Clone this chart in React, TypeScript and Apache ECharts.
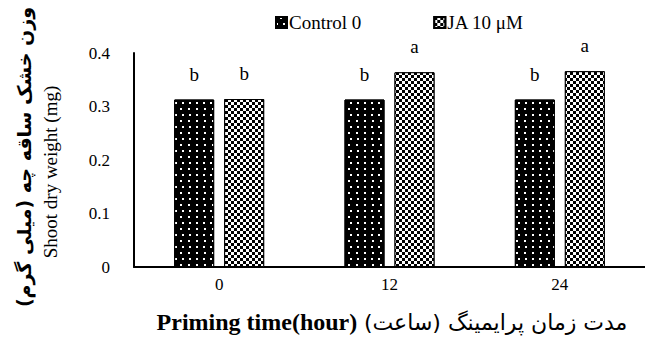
import React, { useEffect, useRef } from "react";
import * as echarts from "echarts";

const categories = ["0", "12", "24"];
const controlValues = [0.313, 0.313, 0.313];
const jaValues = [0.314, 0.364, 0.366];
const controlLetters = ["b", "b", "b"];
const jaLetters = ["b", "a", "a"];
const yTicks = [0, 0.1, 0.2, 0.3, 0.4];
const seriesNames = ["Control 0", "JA 10 μM"];
const yTitleEn = "Shoot dry weight (mg)";
const yTitleFa = "وزن خشک ساقه چه (میلی گرم)";
const xTitleEn = "Priming time(hour)";
const xTitleFa = "مدت زمان پرایمینگ (ساعت)";

const serif = "Times New Roman, Liberation Serif, DejaVu Serif, serif";
const persianFont = "DejaVu Sans, Liberation Serif, serif";

export default function App() {
  const ref = useRef<HTMLDivElement>(null);
  useEffect(() => {
    if (!ref.current) return;
    const chart = echarts.init(ref.current, null, { renderer: "svg" });
    const dotDecal = {
      symbol: "rect",
      symbolSize: 1,
      color: "#ffffff",
      backgroundColor: "#000000",
      dashArrayX: [
        [2, 5],
        [0, 3.5, 2, 1.5],
      ],
      dashArrayY: [2, 4],
      rotation: 0,
    };
    const checkDecal = {
      symbol: "rect",
      symbolSize: 1,
      color: "#ffffff",
      backgroundColor: "#000000",
      dashArrayX: [
        [3, 3],
        [0, 3, 3, 0],
      ],
      dashArrayY: [3, 0],
      rotation: 0,
    };
    const option: any = {
      animation: false,
      backgroundColor: "#ffffff",
      legend: {
        top: 8,
        left: 270,
        itemWidth: 11,
        itemHeight: 11,
        itemGap: 72,
        icon: "rect",
        textStyle: { fontFamily: serif, fontSize: 19, color: "#000", padding: [0, 0, 0, -3] },
        data: seriesNames,
      },
      grid: { left: 134, width: 522, top: 53, height: 214, containLabel: false },
      xAxis: {
        type: "category",
        data: categories,
        axisLine: { show: true, lineStyle: { color: "#000", width: 2 } },
        axisTick: { show: false },
        axisLabel: { fontFamily: serif, fontSize: 17, color: "#000", margin: 9 },
      },
      yAxis: {
        type: "value",
        min: 0,
        max: 0.4,
        interval: 0.1,
        axisLine: { show: true, lineStyle: { color: "#000", width: 2 } },
        axisTick: { show: false },
        splitLine: { show: false },
        axisLabel: {
          fontFamily: serif,
          fontSize: 17,
          color: "#000",
          margin: 24,
          formatter: (v: number) => {
            const t = yTicks.find((x) => Math.abs(x - v) < 1e-9);
            return t === undefined ? "" : String(t);
          },
        },
      },
      series: [
        {
          name: seriesNames[0],
          type: "bar",
          data: controlValues,
          barWidth: 40,
          barGap: "25%",
          itemStyle: { color: "#000", borderColor: "#000", borderWidth: 1, decal: dotDecal },
          label: {
            show: true,
            position: "top",
            distance: 16,
            fontFamily: serif,
            fontSize: 19,
            color: "#000",
            formatter: (p: any) => controlLetters[p.dataIndex],
          },
        },
        {
          name: seriesNames[1],
          type: "bar",
          data: jaValues,
          barWidth: 40,
          itemStyle: { color: "#000", borderColor: "#000", borderWidth: 1, decal: checkDecal },
          label: {
            show: true,
            position: "top",
            distance: 16,
            fontFamily: serif,
            fontSize: 19,
            color: "#000",
            formatter: (p: any) => jaLetters[p.dataIndex],
          },
        },
      ],
      graphic: [
        {
          type: "text",
          x: 50,
          y: 172,
          rotation: Math.PI / 2,
          style: {
            text: yTitleEn,
            fontFamily: serif,
            fontSize: 19,
            fill: "#000",
            align: "center",
            verticalAlign: "middle",
          },
        },
        {
          type: "text",
          x: 24,
          y: 157,
          rotation: Math.PI / 2,
          style: {
            text: yTitleFa,
            fontFamily: persianFont,
            fontSize: 19,
            fontWeight: "bold",
            fill: "#000",
            align: "center",
            verticalAlign: "middle",
          },
        },
        {
          type: "text",
          x: 392,
          y: 322,
          style: {
            text: "{en|" + xTitleEn + "}  {fa|" + xTitleFa + "}",
            align: "center",
            verticalAlign: "middle",
            rich: {
              en: { fontFamily: serif, fontSize: 24, fontWeight: "bold", fill: "#000" },
              fa: { fontFamily: persianFont, fontSize: 22, fill: "#000" },
            },
          },
        },
      ],
    };
    chart.setOption(option);
    return () => chart.dispose();
  }, []);
  return <div ref={ref} style={{ width: 645, height: 337, position: "absolute", left: 0, top: 0 }} />;
}
